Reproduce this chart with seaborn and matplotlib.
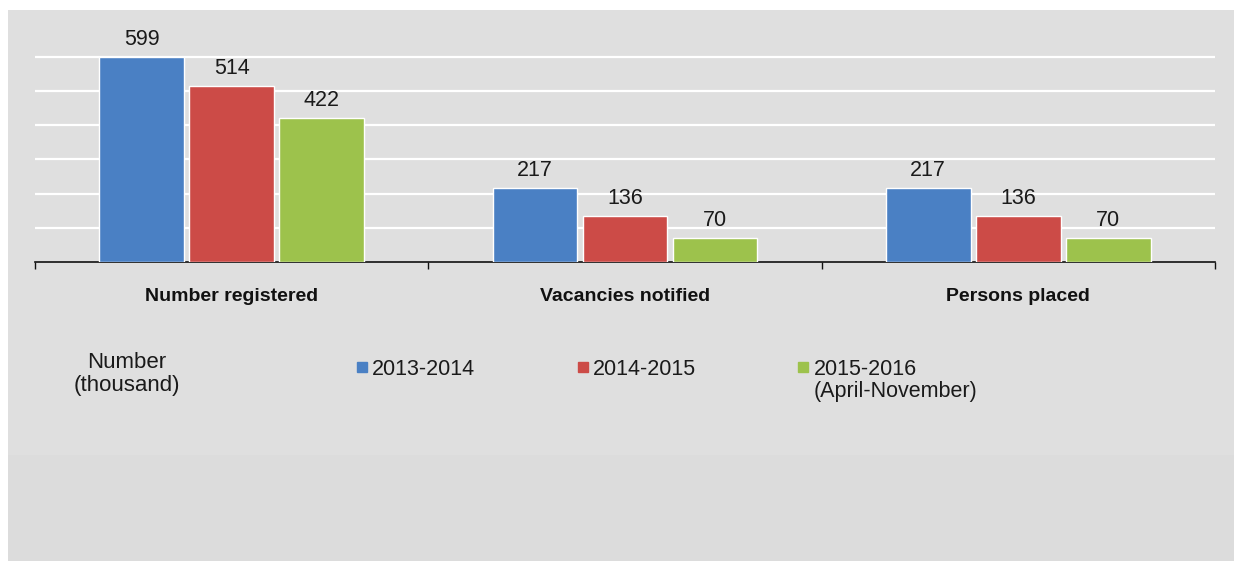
import matplotlib
matplotlib.use("Agg")
import matplotlib.pyplot as plt
from matplotlib.patches import Rectangle
from matplotlib.lines import Line2D
import seaborn as sns
import pandas as pd

# Employment exchange activity, in thousands
categories = ["Number registered", "Vacancies notified", "Persons placed"]
periods = ["2013-2014", "2014-2015", "2015-2016"]
period_notes = ["", "", "(April-November)"]
values_2013_14 = [599, 217, 217]
values_2014_15 = [514, 136, 136]
values_2015_16 = [422, 70, 70]
colors = ["#4a80c4", "#cc4b47", "#9dc24c"]

rows = []
for period, vals in zip(periods, [values_2013_14, values_2014_15, values_2015_16]):
    for cat, v in zip(categories, vals):
        rows.append({"category": cat, "period": period, "value": v})
df = pd.DataFrame(rows)

sns.set_theme(style="white")
plt.rcParams["font.family"] = ["Liberation Sans", "DejaVu Sans"]

W, H = 1234, 561
fig = plt.figure(figsize=(W / 100, H / 100), dpi=100, facecolor="white")


def fy(y_px):
    """Pixel row measured from the top -> figure fraction."""
    return 1 - y_px / H


# grey panel behind the chart
fig.patches.append(Rectangle((8 / W, fy(455)), 1 - 8 / W, (455 - 10) / H,
                             transform=fig.transFigure, facecolor="#dfdfdf",
                             edgecolor="none", zorder=-2))
fig.patches.append(Rectangle((8 / W, 0), 1 - 8 / W, fy(455),
                             transform=fig.transFigure, facecolor="#dcdcdc",
                             edgecolor="none", zorder=-2))

ax = fig.add_axes([35 / W, fy(262), (1215 - 35) / W, (262 - 29.5) / H])
ax.set_zorder(1)
ax.set_facecolor("none")

sns.barplot(data=df, x="category", y="value", hue="period", order=categories,
            hue_order=periods, palette=colors, width=0.687, gap=0.06,
            saturation=1, legend=False, ax=ax, zorder=3)

for container in ax.containers:
    ax.bar_label(container, fmt="%d", padding=5, fontsize=15.5, color="#1a1a1a")

ax.set_ylim(0, 680)
ax.set_xlim(-0.5, 2.5)
ax.set_yticks([100, 200, 300, 400, 500, 600])
ax.yaxis.grid(True, color="white", linewidth=1.6, zorder=0)
ax.set_axisbelow(True)
ax.tick_params(axis="y", left=False, labelleft=False)
ax.set_xlabel("")
ax.set_ylabel("")

for side in ["top", "left", "right"]:
    ax.spines[side].set_visible(False)
ax.spines["bottom"].set_color("#111111")
ax.spines["bottom"].set_linewidth(1.2)

ax.set_xticks([-0.5, 0.5, 1.5, 2.5], minor=True)
ax.tick_params(axis="x", which="minor", bottom=True, length=5, width=1, color="#111111")
ax.tick_params(axis="x", which="major", bottom=False, pad=13)
for lbl in ax.get_xticklabels():
    lbl.set_fontweight("bold")
    lbl.set_fontsize(14)
    lbl.set_color("#111111")

# unit note, left of the legend
fig.text(127 / W, fy(368), "Number", ha="center", va="baseline",
         fontsize=16, color="#1a1a1a")
fig.text(127 / W, fy(391), "(thousand)", ha="center", va="baseline",
         fontsize=16, color="#1a1a1a")

handles = [Line2D([], [], marker="s", linestyle="none", markersize=7.2,
                  markerfacecolor=c, markeredgecolor=c) for c in colors]
leg = fig.legend(handles, periods, loc="upper left",
                 bbox_to_anchor=(356.5 / W, fy(359)), ncol=3, frameon=False,
                 fontsize=15.5, handlelength=0.5, handletextpad=0.23,
                 columnspacing=4.73, borderpad=0, borderaxespad=0,
                 labelcolor="#1a1a1a")

# second line of a legend entry, set under its label
fig.canvas.draw()
inv = fig.transFigure.inverted()
for txt, note in zip(leg.get_texts(), period_notes):
    if note:
        bb = txt.get_window_extent()
        x0, _ = inv.transform((bb.x0, bb.y0))
        fig.text(x0, fy(397), note, ha="left", va="baseline",
                 fontsize=15.5, color="#1a1a1a")

fig.savefig("out.png", dpi=100, facecolor="white")
